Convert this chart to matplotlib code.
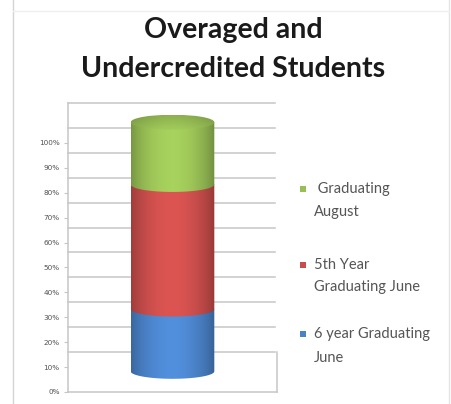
import numpy as np
import matplotlib
matplotlib.use("Agg")
import matplotlib.pyplot as plt
from matplotlib.patches import Polygon, Ellipse, Rectangle
from matplotlib.lines import Line2D

# ---------------- data ----------------
title_lines = ["Overaged and", "Undercredited Students"]
series_names = ["6 year Graduating June", "5th Year Graduating June", "Graduating August"]
legend_lines = [["6 year Graduating", "June"], ["5th Year", "Graduating June"], [" Graduating", "August"]]
values = [25, 50, 25]
colors = ["#4a82c8", "#c84d4b", "#98bf55"]
ytick_values = list(range(0, 101, 10))
ytick_labels = [f"{v}%" for v in ytick_values]

# ---------------- figure ----------------
W, H = 451, 404
fig = plt.figure(figsize=(W / 100, H / 100), dpi=100)
fig.patch.set_facecolor("white")


def fx(px):
    return px / W


def fy(py):
    return 1 - py / H


# chart border
fig.add_artist(Line2D([fx(13), fx(13)], [0, 1], color="#d4d4d4", lw=1.0, transform=fig.transFigure))
fig.add_artist(Line2D([fx(449), fx(449)], [0, 1], color="#e4e4e4", lw=1.0, transform=fig.transFigure))
fig.add_artist(Line2D([fx(13), fx(449)], [fy(11), fy(11)], color="#efefef", lw=1.0, transform=fig.transFigure))

DEPTH = 16.0
YMAX = 100 + DEPTH
ax = fig.add_axes([fx(68), fy(392), (277 - 68) / W, (392 - 103) / H])
ax.set_xlim(0, 1)
ax.set_ylim(0, YMAX)
ax.set_facecolor("none")

grid_c = "#c6c6c6"
for v in ytick_values:
    ax.plot([0, 0.99], [v + DEPTH] * 2, color=grid_c, lw=1.1, zorder=1, clip_on=False)
# floor
ax.plot([0, 1.0], [0, 0], color=grid_c, lw=1.1, zorder=1, clip_on=False)
ax.plot([1.0, 1.0], [0, DEPTH], color=grid_c, lw=1.1, zorder=1, clip_on=False)

for s in ["top", "right", "bottom"]:
    ax.spines[s].set_visible(False)
ax.spines["left"].set_color(grid_c)
ax.spines["left"].set_linewidth(1.1)
ax.set_xticks([])
ax.set_yticks(ytick_values)
ax.set_yticklabels(ytick_labels)
ax.tick_params(axis="y", length=3, width=0.8, color=grid_c, labelsize=5.2,
               labelcolor="#505050", pad=3)

# ---------------- cylinder ----------------
cx, bw = 0.5, 0.4
base = 8.3
ell_h = 6.0
bottoms = np.concatenate([[0], np.cumsum(values)[:-1]]) + base
bars = ax.bar([cx] * len(values), values, width=bw, bottom=bottoms, color=colors,
              zorder=3, linewidth=0)


def shade(u):
    # horizontal lighting across the cylinder
    s = 0.66 + 0.44 * np.sin(np.pi * np.clip(u * 0.92 + 0.04, 0, 1)) ** 0.6
    s -= 0.10 * np.clip(u - 0.55, 0, 1)
    return s


u = np.linspace(0, 1, 300)
sh = shade(u)
t = np.linspace(np.pi, 2 * np.pi, 120)
for i, p in enumerate(bars.patches):
    x0 = p.get_x()
    x1 = x0 + p.get_width()
    y0 = p.get_y()
    y1 = y0 + p.get_height()
    xs = cx + (bw / 2) * np.cos(t)
    ys = y0 + (ell_h / 2) * np.sin(t)
    pts = np.column_stack([xs, ys])
    pts = np.vstack([pts, [[x1, y1], [x0, y1]]])
    poly = Polygon(pts, closed=True, facecolor="none", edgecolor="none", zorder=3 + i)
    ax.add_patch(poly)
    rgb = np.array(matplotlib.colors.to_rgb(colors[i]))
    img = np.clip(rgb[None, :] * sh[:, None], 0, 1)
    img = np.repeat(img[None, :, :], 2, axis=0)
    im = ax.imshow(img, extent=[x0, x1, y0 - ell_h, y1], aspect="auto",
                   zorder=3.5 + i, interpolation="bilinear")
    im.set_clip_path(poly)

# top face
top = bottoms[-1] + values[-1]
top_el = Ellipse((cx, top), bw, ell_h, facecolor="none", edgecolor="none", zorder=7)
ax.add_patch(top_el)
g = np.array(matplotlib.colors.to_rgb(colors[-1]))
vv = np.linspace(0, 1, 50)
top_img = np.clip(g[None, None, :] * (0.88 + 0.14 * vv[:, None, None]) * (0.9 + 0.15 * np.sin(np.pi * u)[None, :, None]), 0, 1)
im = ax.imshow(top_img, extent=[cx - bw / 2, cx + bw / 2, top - ell_h / 2, top + ell_h / 2],
               aspect="auto", zorder=7.5, origin="upper")
im.set_clip_path(top_el)

ax.set_xlim(0, 1)
ax.set_ylim(0, YMAX)

# ---------------- title ----------------
title_font = "Lato"
fig.text(fx(233), fy(38), title_lines[0], ha="center", va="baseline",
         fontsize=20.5, fontweight="bold", family=title_font, color="#1a1a1a")
fig.text(fx(233), fy(77), title_lines[1], ha="center", va="baseline",
         fontsize=20.5, fontweight="bold", family=title_font, color="#1a1a1a")

# ---------------- legend ----------------
leg_y = {2: (189, 212), 1: (265, 287), 0: (334, 358)}
for i in [2, 1, 0]:
    y1, y2 = leg_y[i]
    fig.add_artist(Rectangle((fx(300), fy(y1 + 3)), 6 / W, 6 / H, transform=fig.transFigure,
                             facecolor=colors[i], edgecolor="none"))
    fig.text(fx(314), fy(y1), legend_lines[i][0], ha="left", va="center",
             fontsize=10.5, family="Lato", color="#555555")
    fig.text(fx(314), fy(y2), legend_lines[i][1], ha="left", va="center",
             fontsize=10.5, family="Lato", color="#555555")

fig.savefig("out.png", dpi=100)
